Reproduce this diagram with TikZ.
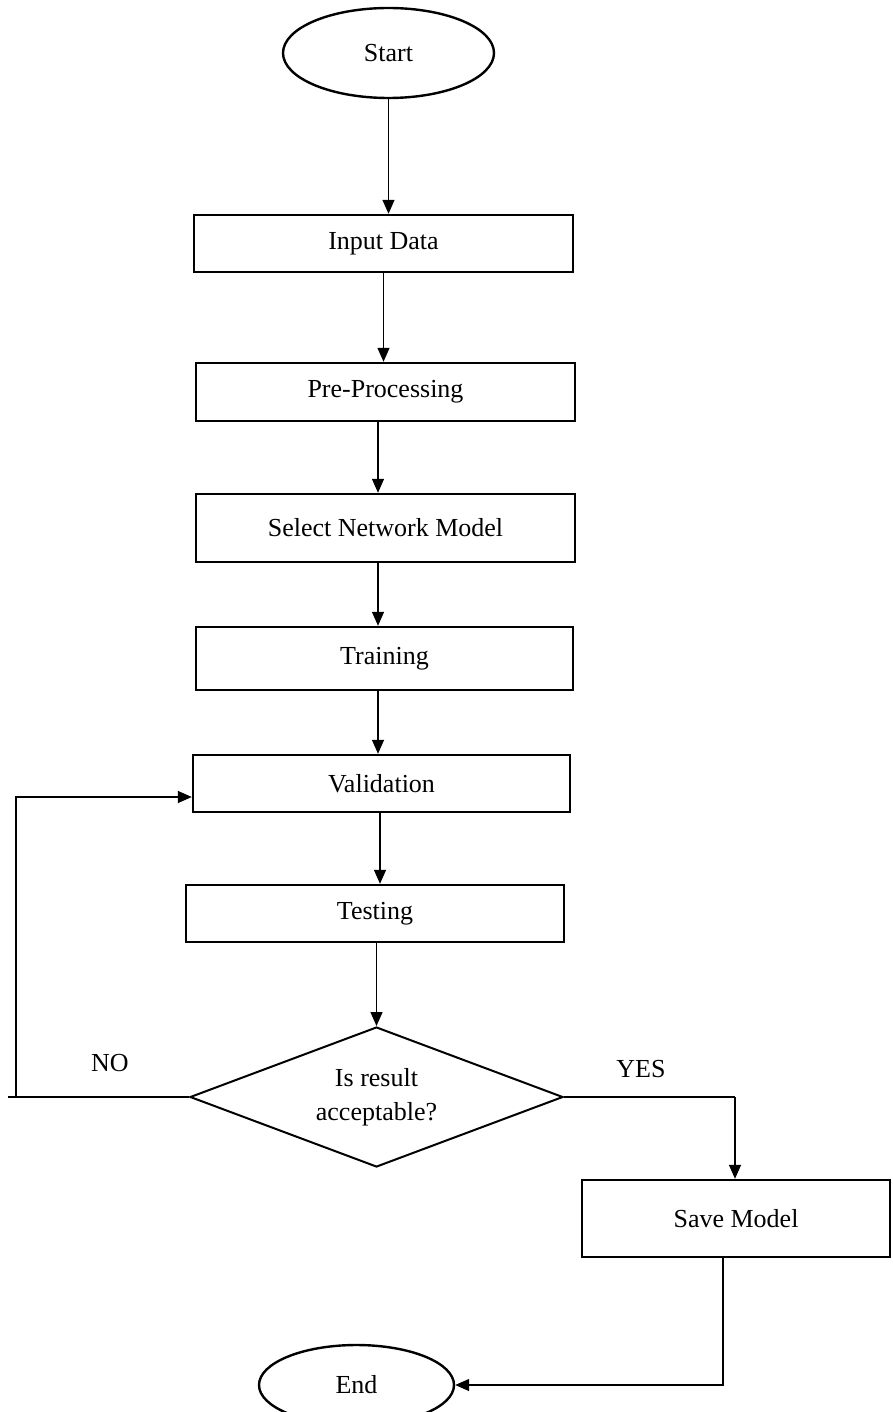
\documentclass[tikz,border=0pt]{standalone}
\usepackage{fontspec}
\setmainfont{Liberation Serif}
\usetikzlibrary{shapes.geometric,arrows.meta}

\begin{document}
\begin{tikzpicture}[
      x=0.5pt,y=-0.5pt,
      every node/.style={font=\fontsize{13}{15}\selectfont, inner sep=0pt},
      stepbox/.style={rectangle, draw=black, line width=1.2pt},
      terminal/.style={ellipse, draw=black, line width=1.2pt},
      decision/.style={diamond, draw=black, line width=1pt, shape aspect=2.6, align=center},
      link/.style={draw=black, line width=0.7pt},
      pointer/.style={link, -{Triangle[length=7pt,width=6pt]}}
      ]
      \useasboundingbox (0,0) rectangle (893,1412);
      % flow nodes
      \node[terminal, minimum width=105.5pt, minimum height=45pt] (start) at (388.5,53) {Start};
      \node[stepbox, minimum width=189.5pt, minimum height=28.5pt] (input) at (383.5,243.5) {Input Data};
      \node[stepbox, minimum width=189.5pt, minimum height=29pt] (prep) at (385.5,392) {Pre-Processing};
      \node[stepbox, minimum width=189.5pt, minimum height=34pt] (select) at (385.5,528) {Select Network Model};
      \node[stepbox, minimum width=188.5pt, minimum height=31.5pt] (train) at (384.5,658.5) {Training};
      \node[stepbox, minimum width=188.5pt, minimum height=28.5pt] (valid) at (381.5,783.5) {Validation};
      \node[stepbox, minimum width=189pt, minimum height=28.5pt] (test) at (375,913.5) {Testing};
      \node[decision, minimum width=186.5pt, minimum height=70pt] (check) at (376.5,1097) {Is result\\[2pt]acceptable?};
      \node[stepbox, minimum width=154pt, minimum height=38.5pt] (save) at (736,1218.5) {Save Model};
      \node[terminal, minimum width=97.5pt, minimum height=40pt] (end) at (356.5,1385) {End};
      % branch labels
      \node (no) at (110,1063) {NO};
      \node (yes) at (641,1069) {YES};
      % lanes and free ends of the bent connectors
      \coordinate (lane) at (378,0);
      \coordinate (lanetest) at (380,0);
      \coordinate (noend) at (8,1097);
      \coordinate (nocorner) at (16,1097);
      \coordinate (noturn) at (16,797);
      \coordinate (yescorner) at (735,1097);
      \coordinate (endturn) at (723,1385);
      % straight connectors
      \path (start.south) edge [pointer] (start.south |- input.north);
      \path (input.south) edge [pointer] (input.south |- prep.north);
      \path (prep.south -| lane) edge [pointer] (lane |- select.north);
      \path (select.south -| lane) edge [pointer] (lane |- train.north);
      \path (train.south -| lane) edge [pointer] (lane |- valid.north);
      \path (valid.south -| lanetest) edge [pointer] (lanetest |- test.north);
      \path (test.south -| check.north) edge [pointer] (check.north);
      % NO loop back to validation
      \path (check.west) edge [link] (noend);
      \draw[pointer] (nocorner) -- (noturn) -- (noturn -| valid.west);
      % YES branch
      \draw[link] (check.east) -- (yescorner);
      \draw[pointer] (yescorner) -- (yescorner |- save.north);
      \draw[pointer] (endturn |- save.south) -- (endturn) -- (end.east);
    \end{tikzpicture}
\end{document}
